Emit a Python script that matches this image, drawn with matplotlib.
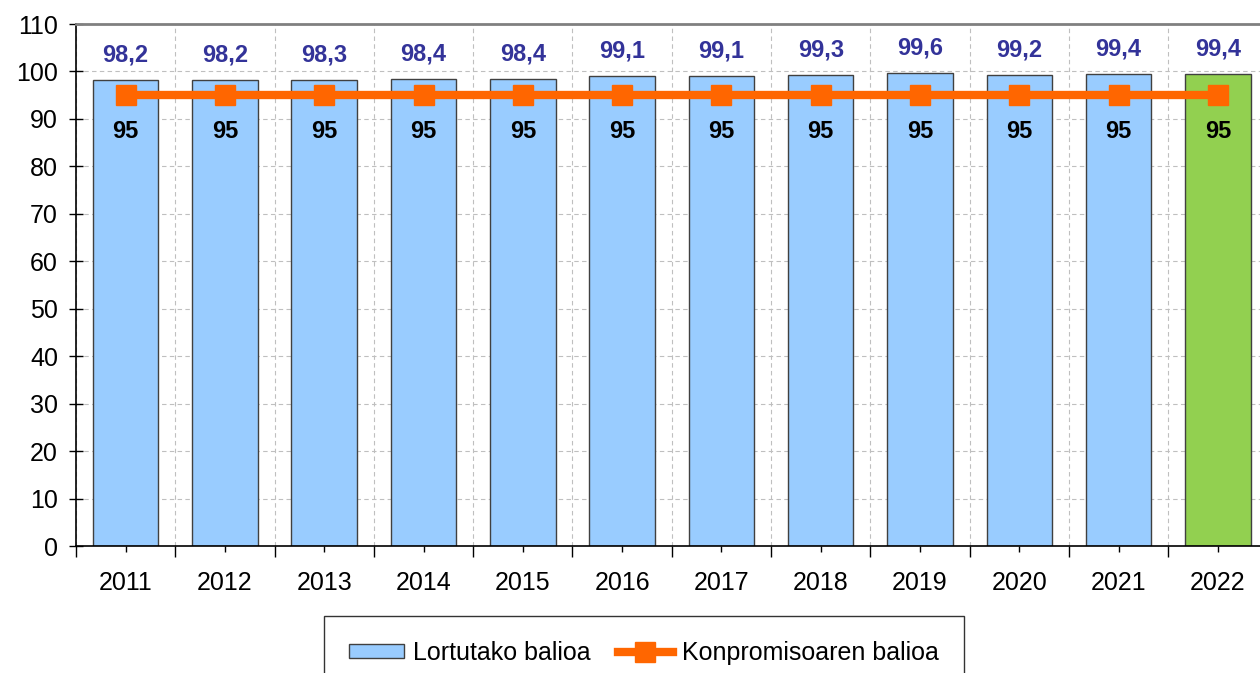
import numpy as np
import matplotlib.pyplot as plt
from matplotlib.ticker import MultipleLocator, FixedLocator

plt.rcParams['font.family'] = ['Liberation Sans', 'DejaVu Sans']

# =========================
# Data
# =========================
years = ["2011", "2012", "2013", "2014", "2015", "2016",
         "2017", "2018", "2019", "2020", "2021", "2022"]
achieved = [98.2, 98.2, 98.3, 98.4, 98.4, 99.1, 99.1, 99.3, 99.6, 99.2, 99.4, 99.4]
target = [95, 95, 95, 95, 95, 95, 95, 95, 95, 95, 95, 95]

bar_label = "Lortutako balioa"
line_label = "Konpromisoaren balioa"

# =========================
# Plot
# =========================
fig = plt.figure(figsize=(12.6, 6.73), dpi=100)
ax = fig.add_axes([0.0603, 0.1887, 0.9457, 0.7756])

x = np.arange(len(years))
colors = ["#99CCFF"] * (len(years) - 1) + ["#92D050"]

bars = ax.bar(x, achieved, width=0.66, color=colors, edgecolor="#404040",
              linewidth=1, zorder=2, label=bar_label)
line, = ax.plot(x, target, color="#FF6600", linewidth=6, marker="s",
                markersize=14, zorder=3, label=line_label)

# value labels
for xi, v in zip(x, achieved):
    ax.annotate(f"{v:.1f}".replace(".", ","), (xi, v), xytext=(0, 18),
                textcoords="offset points", ha="center", va="center",
                fontsize=17, fontweight="bold", color="#333399")
for xi, v in zip(x, target):
    ax.annotate(f"{v}", (xi, v), xytext=(0, -26),
                textcoords="offset points", ha="center", va="center",
                fontsize=17, fontweight="bold", color="black", zorder=4)

# axes
ax.set_xlim(-0.5, len(years) - 0.5)
ax.set_ylim(0, 110)
ax.yaxis.set_major_locator(MultipleLocator(10))
ax.set_xticks(x)
ax.set_xticklabels(years, fontsize=18)
ax.tick_params(axis="y", labelsize=18, direction="inout", length=10, width=1,
               pad=8)
ax.tick_params(axis="x", which="major", length=4, width=1, pad=14)
ax.xaxis.set_minor_locator(FixedLocator(np.arange(-0.5, len(years), 1)))
ax.tick_params(axis="x", which="minor", length=8, width=1)

# grid
ax.grid(axis="y", linestyle=(0, (4, 3)), color="#BFBFBF", linewidth=0.8, zorder=0)
ax.grid(axis="x", which="minor", linestyle=(0, (4, 3)), color="#BFBFBF",
        linewidth=0.8, zorder=0)
ax.set_axisbelow(True)

ax.spines["top"].set_color("#808080")
ax.spines["top"].set_linewidth(2)
ax.spines["right"].set_visible(False)
ax.spines["left"].set_linewidth(1.2)
ax.spines["bottom"].set_linewidth(1.2)

# legend
leg = fig.legend([bars, line], [bar_label, line_label],
                 loc="upper center", bbox_to_anchor=(0.511, 0.085), ncol=2,
                 fontsize=18, frameon=True, fancybox=False, edgecolor="black",
                 handlelength=2.2, handleheight=0.5, borderpad=1.0,
                 borderaxespad=0, columnspacing=1.1, handletextpad=0.35)
leg.get_frame().set_linewidth(1)

fig.savefig("out.png", dpi=100)
